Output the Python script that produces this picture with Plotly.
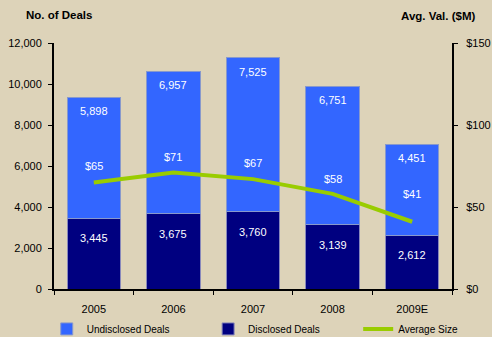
import plotly.graph_objects as go

years = ["2005", "2006", "2007", "2008", "2009E"]
disclosed = [3445, 3675, 3760, 3139, 2612]
undisclosed = [5898, 6957, 7525, 6751, 4451]
avg_size = [65, 71, 67, 58, 41]

BG = "rgb(221,211,185)"
LIGHT = "#3366FF"
DARK = "#000080"
GREEN = "#99CC00"
FONT = "Liberation Sans, Arial, sans-serif"

fig = go.Figure()
fig.add_trace(go.Bar(x=years, y=disclosed, name="Disclosed Deals", legend="legend2",
                     marker=dict(color=DARK, line=dict(color="#8888bb", width=1))))
fig.add_trace(go.Bar(x=years, y=undisclosed, name="Undisclosed Deals", legend="legend",
                     marker=dict(color=LIGHT, line=dict(color="#8899cc", width=1))))
fig.add_trace(go.Scatter(x=years, y=avg_size, name="Average Size", yaxis="y2",
                         legend="legend3", mode="lines", line=dict(color=GREEN, width=4)))

lab_font = dict(color="white", size=11, family=FONT)
for i in range(len(years)):
    fig.add_annotation(x=i, y=disclosed[i], text=f"{disclosed[i]:,}", showarrow=False,
                       yshift=-20, font=lab_font)
    fig.add_annotation(x=i, y=disclosed[i] + undisclosed[i], text=f"{undisclosed[i]:,}",
                       showarrow=False, yshift=-14, font=lab_font)
line_shift = [16, 16, 16, 15, 28]
for i in range(len(years)):
    fig.add_annotation(x=i, y=avg_size[i], yref="y2", text=f"${avg_size[i]}",
                       showarrow=False, yshift=line_shift[i], font=lab_font)

fig.add_annotation(xref="paper", yref="paper", x=(59 - 54) / 398, y=1 + (43 - 15) / 246,
                   xanchor="center", yanchor="middle", text="<b>No. of Deals</b>",
                   showarrow=False, font=dict(size=11.5, color="black", family=FONT))
fig.add_annotation(xref="paper", yref="paper", x=(438 - 54) / 398, y=1 + (43 - 16) / 246,
                   xanchor="center", yanchor="middle", text="<b>Avg. Val. ($M)</b>",
                   showarrow=False, font=dict(size=11.5, color="black", family=FONT))

def leg(x):
    return dict(orientation="h", xref="container", yref="container", x=x, y=0.024,
                xanchor="left", yanchor="middle", font=dict(size=10),
                bgcolor="rgba(0,0,0,0)", itemwidth=30)

fig.update_layout(
    width=492, height=337,
    margin=dict(l=54, r=40, t=43, b=48, autoexpand=False),
    paper_bgcolor=BG, plot_bgcolor=BG,
    barmode="stack", bargap=0.33,
    font=dict(family=FONT, size=11, color="black"),
    showlegend=True,
    legend=leg(0.095), legend2=leg(0.423), legend3=leg(0.728),
    xaxis=dict(type="category", range=[-0.5, len(years) - 0.5], showline=True,
               linecolor="black", linewidth=2, ticks="outside", tickson="boundaries",
               ticklen=4, tickcolor="black", showgrid=False, tickfont=dict(size=11),
               ticklabelstandoff=9),
    yaxis=dict(range=[0, 12000], dtick=2000, tickformat=",", showline=True,
               linecolor="black", linewidth=2, ticks="outside", ticklen=4,
               tickcolor="black", showgrid=False, zeroline=False,
               ticklabelstandoff=4),
    yaxis2=dict(range=[0, 150], dtick=50, tickprefix="$", overlaying="y", side="right",
                showline=True, linecolor="black", linewidth=2, ticks="outside", ticklen=4,
                tickcolor="black", showgrid=False, zeroline=False, ticklabelstandoff=6),
)

fig.write_html("out.html")
